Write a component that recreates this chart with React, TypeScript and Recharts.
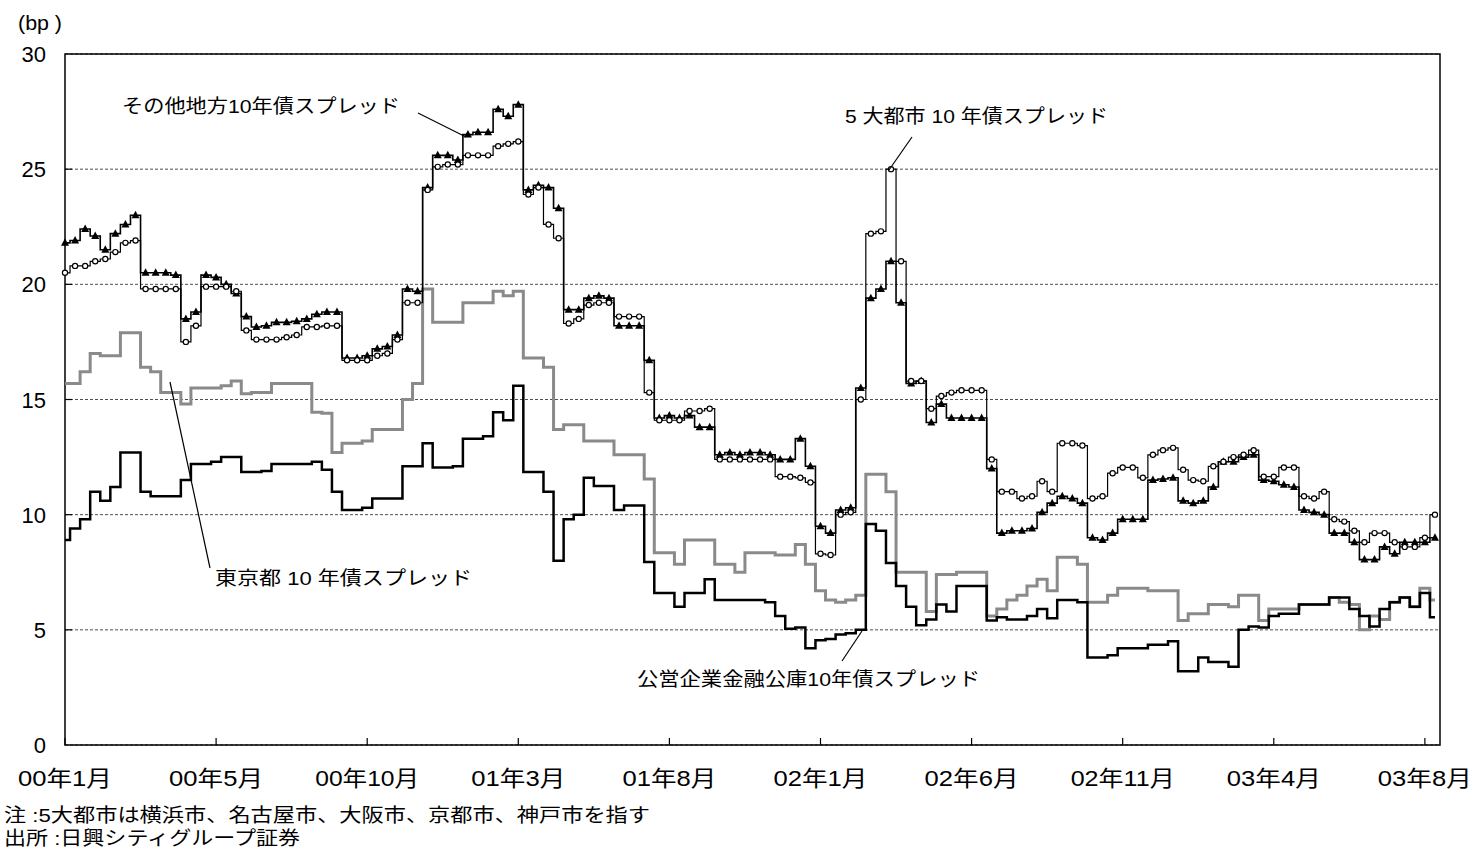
import React from 'react'
import {
  LineChart,
  Line,
  XAxis,
  YAxis,
  CartesianGrid,
  ReferenceArea,
} from 'recharts'

// one point every ~10 px, 15 points between date ticks
const tickLabels = ['00年1月', '00年5月', '00年10月', '01年3月', '01年8月', '02年1月', '02年6月', '02年11月', '03年4月', '03年8月']
const tickIdx = [0, 15, 30, 45, 60, 75, 90, 105, 120, 135]
const yTicks = [0, 5, 10, 15, 20, 25, 30]

// その他地方10年債スプレッド
const other = [
  21.8, 21.9, 22.4, 22.1, 21.5, 22.2, 22.6, 23.0, 20.5, 20.5,
  20.5, 20.4, 18.5, 18.8, 20.4, 20.3, 20.0, 19.6, 18.6, 18.15,
  18.2, 18.35, 18.35, 18.4, 18.5, 18.7, 18.8, 18.8, 16.8, 16.8,
  16.9, 17.2, 17.3, 17.8, 19.8, 19.7, 24.2, 25.6, 25.6, 25.4,
  26.5, 26.6, 26.6, 27.6, 27.3, 27.8, 24.1, 24.3, 24.2, 23.3,
  18.9, 18.9, 19.4, 19.5, 19.4, 18.2, 18.2, 18.2, 16.7, 14.2,
  14.3, 14.2, 14.3, 13.8, 13.8, 12.6, 12.7, 12.6, 12.7, 12.7,
  12.6, 12.4, 12.4, 13.3, 12.1, 9.5, 9.2, 10.2, 10.3, 15.5,
  19.4, 19.8, 21.0, 19.2, 15.7, 15.8, 14.0, 14.8, 14.2, 14.2,
  14.2, 14.2, 12.0, 9.2, 9.3, 9.3, 9.4, 10.1, 10.5, 10.8,
  10.7, 10.5, 9.0, 8.9, 9.2, 9.8, 9.8, 9.8, 11.5, 11.55,
  11.6, 10.6, 10.5, 10.6, 11.2, 12.3, 12.3, 12.5, 12.6, 11.5,
  11.45, 11.3, 11.2, 10.2, 10.1, 10.0, 9.2, 9.2, 8.8, 8.05,
  8.05, 8.6, 8.3, 8.8, 8.8, 8.8, 9.0,
]

// 5大都市10年債スプレッド
const big5 = [
  20.5, 20.8, 20.8, 21.0, 21.1, 21.4, 21.8, 21.9, 19.8, 19.8,
  19.8, 19.8, 17.5, 18.2, 19.9, 19.9, 19.9, 19.7, 18.0, 17.6,
  17.6, 17.6, 17.7, 17.8, 18.15, 18.15, 18.2, 18.2, 16.7, 16.7,
  16.7, 16.9, 17.0, 17.6, 19.2, 19.2, 24.1, 25.1, 25.2, 25.2,
  25.6, 25.6, 25.6, 26.0, 26.1, 26.2, 23.9, 24.2, 22.6, 22.0,
  18.3, 18.5, 19.1, 19.2, 19.2, 18.6, 18.6, 18.6, 15.3, 14.1,
  14.1, 14.1, 14.5, 14.5, 14.6, 12.4, 12.4, 12.4, 12.4, 12.4,
  12.4, 11.65, 11.65, 11.6, 11.4, 8.3, 8.25, 10.0, 10.1, 15.0,
  22.2, 22.3, 25.0, 21.0, 15.8, 15.8, 14.6, 15.15, 15.3, 15.4,
  15.4, 15.4, 12.4, 11.0, 11.0, 10.7, 10.8, 11.45, 11.0, 13.1,
  13.1, 13.0, 10.7, 10.8, 11.8, 12.05, 12.05, 11.6, 12.6, 12.8,
  12.9, 11.95, 11.5, 11.45, 12.1, 12.3, 12.5, 12.6, 12.8, 11.65,
  11.65, 12.05, 12.05, 10.8, 10.7, 11.0, 9.8, 9.7, 9.3, 8.8,
  9.2, 9.2, 8.8, 8.6, 8.6, 9.0, 10.0,
]

// 東京都10年債スプレッド
const tokyo = [
  15.7, 15.7, 16.2, 17.0, 16.9, 16.9, 17.9, 17.9, 16.4, 16.2,
  15.3, 15.3, 14.8, 15.5, 15.5, 15.5, 15.6, 15.8, 15.25, 15.3,
  15.3, 15.7, 15.7, 15.7, 15.7, 14.45, 14.4, 12.7, 13.1, 13.1,
  13.2, 13.7, 13.7, 13.7, 15.0, 15.7, 19.8, 18.35, 18.35, 18.35,
  19.2, 19.2, 19.2, 19.7, 19.5, 19.7, 16.8, 16.8, 16.4, 13.7,
  13.9, 13.9, 13.2, 13.2, 13.2, 12.6, 12.6, 12.6, 11.55, 8.35,
  8.35, 7.85, 8.9, 8.9, 8.9, 7.85, 7.85, 7.5, 8.35, 8.35,
  8.35, 8.25, 8.25, 8.7, 7.85, 6.7, 6.3, 6.2, 6.3, 6.5,
  11.75, 11.75, 11.0, 7.5, 7.5, 7.5, 5.8, 7.4, 7.4, 7.5,
  7.5, 7.5, 5.6, 5.9, 6.3, 6.5, 6.9, 7.2, 6.7, 8.15,
  8.15, 7.85, 6.2, 6.2, 6.5, 6.8, 6.8, 6.8, 6.7, 6.7,
  6.7, 5.4, 5.7, 5.7, 6.1, 6.1, 6.0, 6.5, 6.5, 5.4,
  5.9, 5.9, 5.9, 6.1, 6.1, 6.1, 6.4, 6.2, 6.1, 5.0,
  5.6, 5.45, 6.2, 6.4, 6.0, 6.8, 6.3,
]

// 公営企業金融公庫10年債スプレッド
const koei = [
  8.9, 9.4, 9.8, 11.0, 10.6, 11.2, 12.7, 12.7, 11.0, 10.8,
  10.8, 10.8, 11.5, 12.2, 12.2, 12.3, 12.5, 12.5, 11.85, 11.85,
  11.9, 12.2, 12.2, 12.2, 12.2, 12.3, 11.95, 11.0, 10.2, 10.2,
  10.3, 10.7, 10.7, 10.7, 12.1, 12.1, 13.1, 12.05, 12.05, 12.1,
  13.3, 13.3, 13.4, 14.45, 14.1, 15.6, 11.85, 11.85, 11.0, 8.0,
  9.8, 10.0, 11.6, 11.25, 11.25, 10.2, 10.4, 10.4, 7.95, 6.6,
  6.6, 6.0, 6.6, 6.6, 7.2, 6.3, 6.3, 6.3, 6.3, 6.3,
  6.2, 5.6, 5.05, 5.1, 4.2, 4.55, 4.6, 4.8, 4.85, 5.0,
  9.6, 9.3, 7.9, 6.9, 6.0, 5.2, 5.45, 6.1, 5.8, 6.9,
  6.9, 6.9, 5.4, 5.55, 5.45, 5.45, 5.6, 5.9, 5.5, 6.3,
  6.3, 6.2, 3.8, 3.8, 3.9, 4.2, 4.2, 4.2, 4.35, 4.35,
  4.5, 3.2, 3.2, 3.8, 3.6, 3.6, 3.4, 5.0, 5.15, 5.1,
  5.6, 5.7, 5.7, 6.1, 6.1, 6.1, 6.4, 6.4, 5.9, 5.6,
  5.15, 5.9, 6.2, 6.4, 6.0, 6.6, 5.55,
]

const data = other.map((v, i) => ({
  i,
  other: v,
  big5: big5[i],
  tokyo: tokyo[i],
  koei: koei[i],
}))

const FONT = '"Liberation Sans", Arial, "Noto Sans CJK JP", sans-serif'

const XTick = (props: any) => {
  const { x, y, payload } = props
  const k = tickIdx.indexOf(payload.value)
  const label = tickLabels[k] ?? ''
  return (
    <g>
      <line x1={x} y1={y} x2={x} y2={y - 7} stroke="#000" strokeWidth={1.2} />
      <text
        x={x}
        y={y + 41}
        textAnchor="middle"
        fontSize={22}
        fontFamily={FONT}
        fill="#000"
        textLength={94 + (label.length - 5) * 10}
        lengthAdjust="spacingAndGlyphs"
      >
        {label}
      </text>
    </g>
  )
}

const YTick = (props: any) => {
  const { x, y, payload } = props
  return (
    <g>
      {payload.value > 0 && payload.value < 30 && (
        <line x1={x} y1={y} x2={x + 7} y2={y} stroke="#000" strokeWidth={1.2} />
      )}
      <text x={x - 19} y={y + 8} textAnchor="end" fontSize={22} fontFamily={FONT} fill="#000">
        {payload.value}
      </text>
    </g>
  )
}

const Tri = (props: any) => {
  const { cx, cy } = props
  if (cx == null || cy == null) return <g />
  return (
    <polygon
      points={`${cx},${cy - 4.5} ${cx - 4},${cy + 3} ${cx + 4},${cy + 3}`}
      fill="#000"
    />
  )
}

function Notes() {
  const t = { fontFamily: FONT, fill: '#000', lengthAdjust: 'spacingAndGlyphs' as const }
  return (
    <svg
      width={1479}
      height={853}
      style={{ position: 'absolute', left: 0, top: 0, pointerEvents: 'none' }}
    >
      <text x={18} y={30} fontSize={20} textLength={44} {...t}>(bp )</text>

      <text x={122} y={113} fontSize={19} textLength={278} {...t}>その他地方10年債スプレッド</text>
      <line x1={418} y1={113} x2={466} y2={137} stroke="#000" strokeWidth={1.2} />

      <text x={845} y={123} fontSize={19} textLength={263} {...t}>5 大都市 10 年債スプレッド</text>
      <line x1={912} y1={137} x2={889} y2={170} stroke="#000" strokeWidth={1.2} />

      <text x={215} y={585} fontSize={19} textLength={257} {...t}>東京都 10 年債スプレッド</text>
      <line x1={210} y1={568} x2={170} y2={382} stroke="#000" strokeWidth={1.2} />

      <text x={637} y={686} fontSize={19} textLength={343} {...t}>公営企業金融公庫10年債スプレッド</text>
      <line x1={842} y1={661} x2={862} y2={631} stroke="#000" strokeWidth={1.2} />

      <text x={4} y={822} fontSize={19} textLength={646} {...t}>注 :5大都市は横浜市、名古屋市、大阪市、京都市、神戸市を指す</text>
      <text x={4} y={845} fontSize={19} textLength={296} {...t}>出所 :日興シティグループ証券</text>
    </svg>
  )
}

export default function App() {
  return (
    <div style={{ position: 'absolute', left: 0, top: 0, width: 1479, height: 853, background: '#fff' }}>
      <LineChart
        width={1479}
        height={853}
        data={data}
        margin={{ top: 54, right: 39, bottom: 78, left: 0 }}
      >
        <CartesianGrid vertical={false} stroke="#222" strokeDasharray="3 2" strokeWidth={0.8} />
        <XAxis
          dataKey="i"
          type="number"
          domain={[0, 136.5]}
          ticks={tickIdx}
          interval={0}
          height={30}
          axisLine={false}
          tickLine={false}
          tickSize={0}
          tickMargin={0}
          tick={<XTick />}
        />
        <YAxis
          domain={[0, 30]}
          ticks={yTicks}
          interval={0}
          width={65}
          axisLine={false}
          tickLine={false}
          tickSize={0}
          tickMargin={0}
          tick={<YTick />}
        />
        <ReferenceArea
          x1={0}
          x2={136.5}
          y1={0}
          y2={30}
          fill="none"
          stroke="#000"
          strokeWidth={1.5}
          ifOverflow="visible"
        />
        <Line
          type="step"
          dataKey="tokyo"
          stroke="#8a8a8a"
          strokeWidth={3}
          dot={false}
          isAnimationActive={false}
        />
        <Line
          type="step"
          dataKey="koei"
          stroke="#000"
          strokeWidth={2.5}
          dot={false}
          isAnimationActive={false}
        />
        <Line
          type="step"
          dataKey="other"
          stroke="#000"
          strokeWidth={1.6}
          dot={<Tri />}
          isAnimationActive={false}
        />
        <Line
          type="step"
          dataKey="big5"
          stroke="#000"
          strokeWidth={1.2}
          dot={{ r: 2.6, fill: '#fff', stroke: '#000', strokeWidth: 1.2 }}
          isAnimationActive={false}
        />
      </LineChart>
      <Notes />
    </div>
  )
}
